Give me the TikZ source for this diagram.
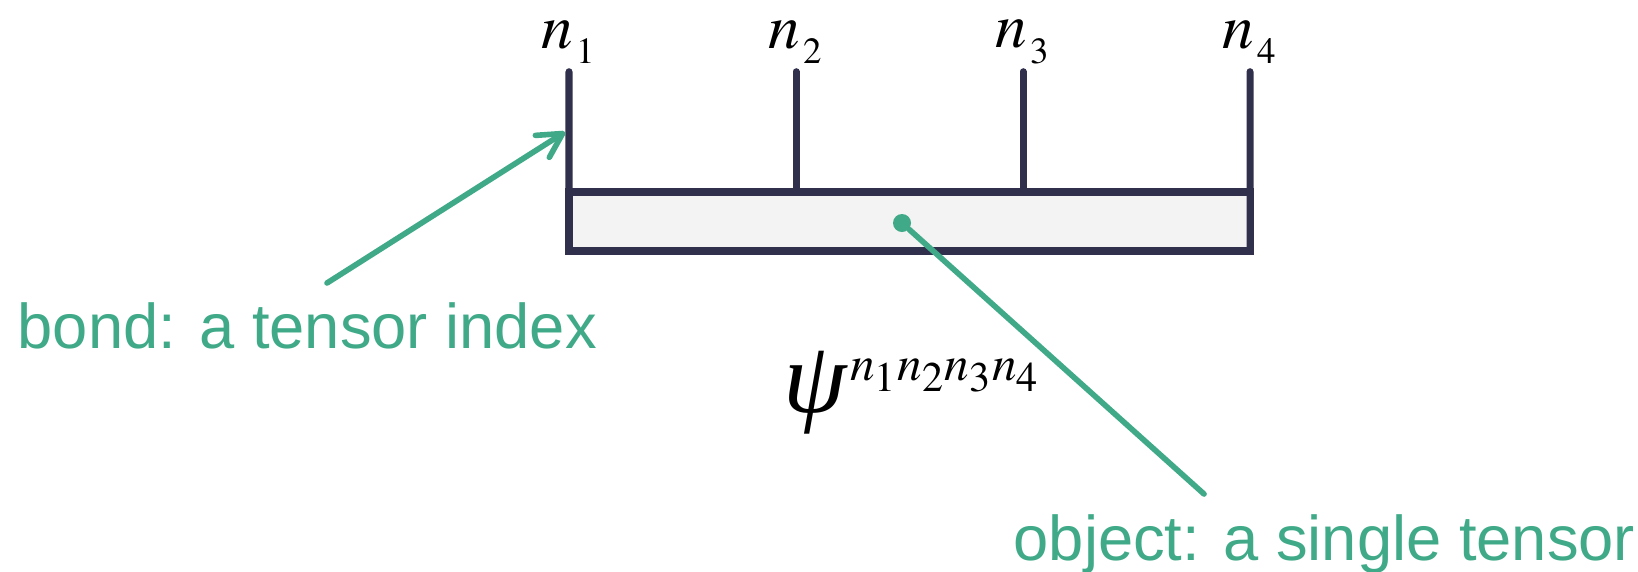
\documentclass[tikz,border=0pt]{standalone}
\usepackage{amssymb,amsmath}
\usepackage{mathptmx}
\usepackage[no-math]{fontspec}
\newfontfamily\notefont{Liberation Sans}
\newfontfamily\greekfont{Liberation Serif}
\usepackage{tikz}
\usetikzlibrary{arrows.meta}
\DeclareMathSizes{18}{18}{10.5}{8}
\DeclareMathSizes{14}{14}{12}{10}
\definecolor{bondcol}{RGB}{48,48,76}
\definecolor{notecol}{RGB}{64,170,136}
\definecolor{tensorfill}{RGB}{242,243,242}
\newcommand{\legindex}[1]{$n_{\raisebox{-0.06cm}{\hspace{0.03cm}$\scriptstyle#1$}}$}

\begin{document}
\begin{tikzpicture}[
    leg/.style={inner sep=0pt,minimum size=0pt},
    index/.style={font=\fontsize{18}{20}\selectfont,inner sep=0pt},
    tensor/.style={rectangle,draw=bondcol,fill=tensorfill,line width=2pt,minimum width=6.81cm,minimum height=0.59cm,inner sep=0pt,outer sep=0pt},
    bond/.style={draw=bondcol,line width=2pt,line cap=round},
    note/.style={text=notecol,font=\notefont\fontsize{18}{20}\selectfont,inner sep=0pt},
    pointer/.style={draw=notecol,line width=1.6pt,line cap=round},
    dot/.style={circle,fill=notecol,minimum size=0.18cm,inner sep=0pt}]

\useasboundingbox (0,0) rectangle (16.38,-5.71);

\node[tensor] (box) at (9.095,-2.215) {};

\node[leg,label={[index,label distance=0.06cm]above:\legindex{1}}] (1) at (5.69,-0.71) {};
\node[leg,label={[index,label distance=0.06cm]above:\legindex{2}}] (2) at (7.96,-0.71) {};
\node[leg,label={[index,label distance=0.06cm]above:\legindex{3}}] (3) at (10.23,-0.71) {};
\node[leg,label={[index,label distance=0.06cm]above:\legindex{4}}] (4) at (12.50,-0.71) {};

\draw[bond] (1) -- (box.south west);
\draw[bond] (2) -- (2 |- box.north);
\draw[bond] (3) -- (3 |- box.north);
\draw[bond] (4) -- (box.south east);

\node[dot] (obj) at (9.02,-2.23) {};
\node[note,anchor=base west] (objnote) at (10.13,-5.60) {object: a single tensor};
\coordinate (objtail) at (12.04,-4.94);
\draw[pointer] (obj) -- (objtail);

\node[note,anchor=base west] (bondnote) at (0.17,-3.48) {bond: a tensor index};
\coordinate (bondtail) at (3.27,-2.83);
\coordinate (bondtip) at (5.65,-1.32);
\draw[pointer,-{Straight Barb[length=2.4mm,width=2.6mm,round]}] (bondtail) -- (bondtip);

\node[anchor=base west,inner sep=0pt] (psi) at (7.83,-4.12) {{\greekfont\itshape\fontsize{29}{29}\selectfont ψ}\hspace{0.03cm}\raisebox{0.32cm}{\fontsize{14}{14}\selectfont$n_1n_2n_3n_4$}};
\end{tikzpicture}
\end{document}
